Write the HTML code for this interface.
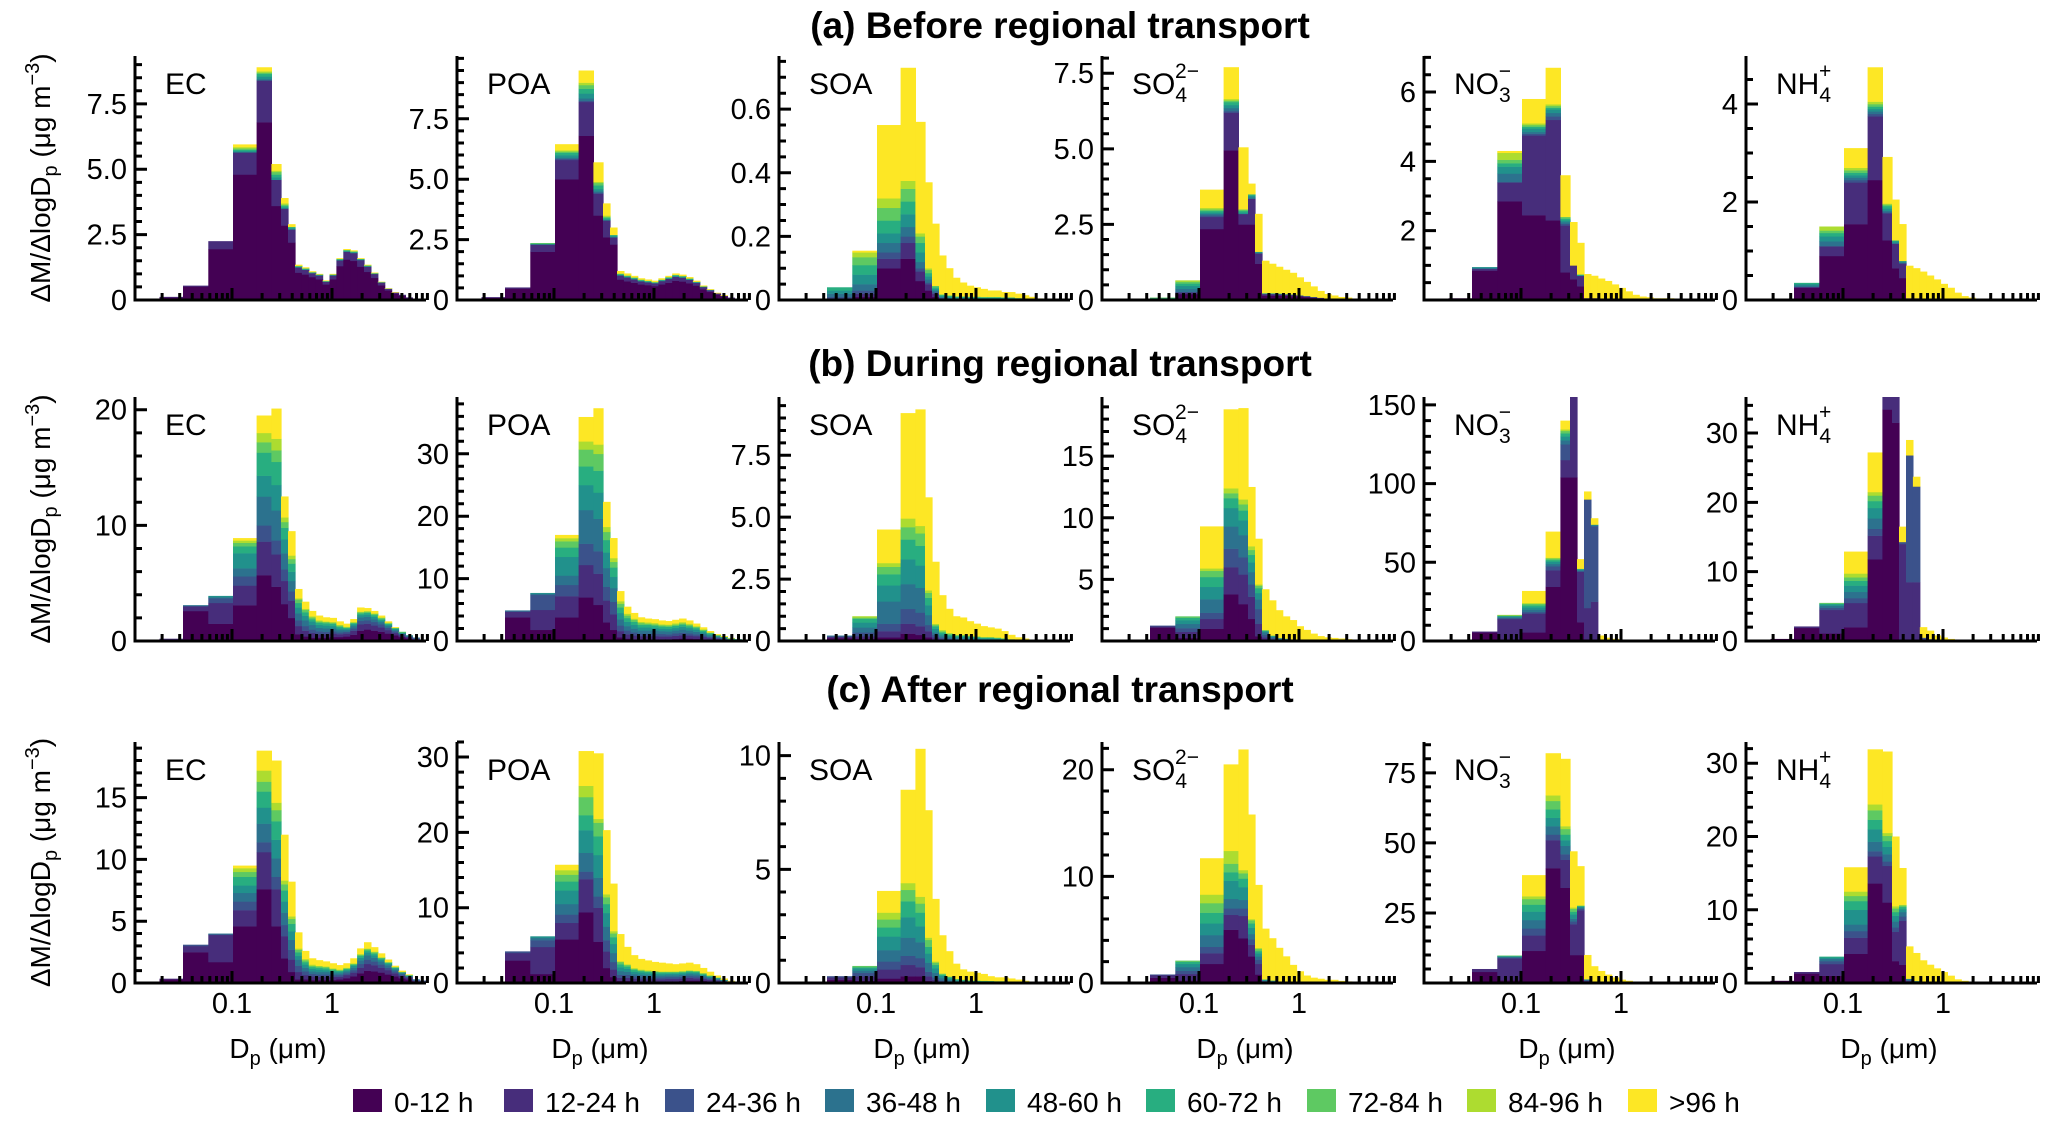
<!DOCTYPE html>
<html><head><meta charset="utf-8"><title>Size distributions by transport age</title>
<style>
html,body{margin:0;padding:0;background:#fff;}
svg{display:block;font-family:"Liberation Sans",Arial,sans-serif;}
</style></head>
<body>
<svg id="chart" width="2067" height="1126" viewBox="0 0 2067 1126" xmlns="http://www.w3.org/2000/svg"></svg>
<script>
// ---- data ----
const ageCategories = ['0-12 h','12-24 h','24-36 h','36-48 h','48-60 h','60-72 h','72-84 h','84-96 h','>96 h'];
const ageColors = ['#440154','#472d7b','#3b528b','#2c728e','#21918c','#28ae80','#5ec962','#addc30','#fde725'];
// bin edges, log10(Dp/um)
const binEdgesLog = [-1.97,-1.725,-1.49,-1.237,-0.99,-0.754,-0.606,-0.51,-0.44,-0.37,-0.301,-0.232,-0.163,-0.094,-0.025,0.044,0.113,0.182,0.251,0.32,0.389,0.458,0.527,0.596,0.665,0.734,0.803,0.872,0.941];
const speciesNames = ['EC','POA','SOA','SO4','NO3','NH4'];
const periodTitles = ['(a) Before regional transport','(b) During regional transport','(c) After regional transport'];

const a_EC = [[0.05],[0.1,0.02],[0.52,0.03],[1.95,0.3],[4.8,0.85,0,0,0.05,0.05,0.05,0.05,0.1],[6.8,1.6,0,0.05,0.1,0.1,0.05,0.05,0.15],[3.6,1.0,0,0,0.1,0.1,0.1,0.05,0.25],[2.85,0.65,0,0,0.05,0.05,0.05,0.05,0.2],[2.2,0.5,0,0,0.05,0.05,0,0,0.1],
[1.05,0.2,0,0,0.02,0.02,0.02,0,0.04],[0.98,0.18,0,0,0.02,0.02,0.02,0,0.03],[0.88,0.15,0,0,0.02,0.02,0,0,0.03],[0.8,0.14,0,0,0.02,0.02,0,0,0.02],[0.6,0.1,0,0,0.02,0.01,0,0,0.02],[0.8,0.14,0,0,0.02,0.02,0,0,0.02],[1.3,0.22,0,0,0.02,0.02,0.02,0,0.02],[1.55,0.3,0,0,0.03,0.02,0.02,0,0.03],[1.5,0.3,0,0,0.03,0.02,0.02,0,0.03],[1.28,0.25,0,0,0.02,0.02,0.01,0,0.02],[1.08,0.2,0,0,0.02,0.02,0.01,0,0.02],[0.85,0.15,0,0,0.02,0.01,0,0,0.02],[0.57,0.1,0,0,0.01,0.01,0,0,0.01],[0.37,0.06,0,0,0.01,0,0,0,0.01],[0.25,0.04,0,0,0,0,0,0,0.01],[0.17,0.03],[0.08,0.02],[0.04,0.01],[0.03]];
const a_POA = [[0.05],[0.1,0.02],[0.48,0.04],[2.0,0.3,0,0,0.02,0.02,0.02,0,0],[5.0,0.8,0.05,0.05,0.1,0.1,0.05,0.05,0.25],[6.8,1.4,0.05,0.1,0.2,0.2,0.15,0.1,0.5],[3.5,0.9,0.05,0.05,0.1,0.15,0.1,0.05,0.8],[2.6,0.7,0,0,0.05,0.05,0.05,0.05,0.5],[2.3,0.3,0,0,0.05,0.05,0,0,0.3],
[0.85,0.17,0,0,0.03,0.03,0.02,0,0.1],[0.78,0.16,0,0,0.03,0.03,0.02,0,0.08],[0.72,0.14,0,0,0.03,0.03,0.02,0,0.06],[0.65,0.13,0,0,0.02,0.03,0.02,0,0.05],[0.62,0.12,0,0,0.02,0.03,0.01,0,0.05],[0.58,0.12,0,0,0.02,0.02,0.01,0,0.05],[0.65,0.14,0,0,0.02,0.03,0.01,0,0.05],[0.72,0.16,0,0,0.03,0.03,0.01,0,0.05],[0.8,0.17,0,0,0.03,0.03,0.02,0,0.05],[0.77,0.16,0,0,0.03,0.03,0.01,0,0.05],[0.7,0.14,0,0,0.02,0.03,0.01,0,0.05],[0.6,0.12,0,0,0.02,0.02,0,0,0.04],[0.45,0.09,0,0,0.01,0.02,0,0,0.03],[0.34,0.07,0,0,0.01,0.01,0,0,0.02],[0.23,0.05,0,0,0,0,0,0,0.02],[0.15,0.03,0,0,0,0,0,0,0.02],[0.08,0.02],[0.04,0.01],[0.03]];
const a_SOA = [[],[],[0.003,0.002,0.005,0.01,0.01,0.01],[0.01,0.01,0.01,0.02,0.03,0.03,0.025,0.015,0.005],[0.1,0.03,0.02,0.03,0.03,0.04,0.04,0.03,0.23],[0.13,0.05,0.02,0.03,0.04,0.04,0.04,0.025,0.355],[0.06,0.03,0.01,0.02,0.03,0.03,0.02,0.01,0.35],[0.03,0.02,0.005,0.01,0.01,0.01,0.01,0.005,0.27],[0.01,0.01,0.005,0.005,0.005,0.005,0.005,0,0.195],
[0.003,0.002,0.002,0.003,0.003,0.003,0.002,0,0.122],[0.002,0.002,0.001,0.002,0.003,0.003,0.002,0,0.085],[0.002,0.001,0.001,0.002,0.002,0.002,0.002,0,0.058],[0.002,0.001,0.001,0.002,0.002,0.002,0.002,0,0.043],[0.001,0.001,0.001,0.002,0.002,0.002,0.002,0,0.034],[0.001,0.001,0.001,0.002,0.002,0.002,0.002,0,0.029],[0.001,0.001,0.001,0.002,0.002,0.002,0.001,0,0.025],[0.001,0.001,0.001,0.002,0.002,0.002,0.001,0,0.02],[0.001,0.001,0.001,0.002,0.002,0.002,0.001,0,0.02],[0.001,0.001,0.001,0.001,0.002,0.002,0.001,0,0.016],[0.001,0.001,0.001,0.001,0.002,0.002,0.001,0,0.016],[0.001,0.001,0.001,0.001,0.001,0.001,0.001,0,0.013],[0,0,0,0.001,0.001,0.001,0,0,0.012],[0,0,0,0,0.001,0.001,0,0,0.008],[0,0,0,0,0,0,0,0,0.005],[0,0,0,0,0,0,0,0,0.003],[],[],[]];
const a_SO4 = [[],[],[0.03,0.01,0,0.01,0.01,0.01,0.01],[0.2,0.05,0.02,0.1,0.1,0.08,0.06,0.04,0],[2.35,0.4,0.05,0.05,0.05,0.05,0.05,0.05,0.6],[4.95,1.25,0.05,0.1,0.1,0.1,0.05,0.05,1.05],[2.5,0.35,0,0,0.05,0.05,0.05,0,2.05],[2.5,0.85,0,0.05,0.05,0.05,0,0,0.35],[1.2,0.35,0,0,0.05,0,0,0,1.25],
[0.15,0.05,0,0.01,0.01,0.01,0,0,1.07],[0.15,0.05,0,0.01,0.01,0.01,0,0,0.97],[0.15,0.04,0,0.01,0.01,0.01,0,0,0.88],[0.14,0.04,0,0.01,0.01,0,0,0,0.8],[0.13,0.04,0,0.01,0.01,0,0,0,0.71],[0.12,0.03,0,0,0.01,0,0,0,0.59],[0.1,0.03,0,0,0.01,0,0,0,0.46],[0.08,0.02,0,0,0.01,0,0,0,0.34],[0.06,0.02,0,0,0,0,0,0,0.22],[0.04,0.01,0,0,0,0,0,0,0.15],[0.03,0.01,0,0,0,0,0,0,0.11],[0.02,0.01,0,0,0,0,0,0,0.07],[0.01,0,0,0,0,0,0,0,0.07],[0.01,0,0,0,0,0,0,0,0.04],[0,0,0,0,0,0,0,0,0.03],[0,0,0,0,0,0,0,0,0.02],[0,0,0,0,0,0,0,0,0.01],[],[]];
const a_NO3 = [[],[0.05],[0.85,0.05,0,0.03,0.02],[2.85,0.55,0,0.25,0.2,0.1,0.1,0.2,0.05],[2.45,2.3,0.05,0.05,0.1,0.05,0.05,0.05,0.7],[2.3,2.9,0.1,0.1,0.1,0.05,0.05,0.05,1.05],[0.8,1.35,0.05,0.05,0.05,0.05,0.05,0,1.2],[0.6,0.4,0,0,0,0,0,0,1.25],[0.4,0.3,0,0,0.02,0.02,0,0,0.91],
[0.04,0.02,0,0,0,0,0,0,0.69],[0.04,0.02,0,0,0,0,0,0,0.64],[0.03,0.02,0,0,0,0,0,0,0.57],[0.03,0.01,0,0,0,0,0,0,0.51],[0.02,0.01,0,0,0,0,0,0,0.42],[0.02,0.01,0,0,0,0,0,0,0.32],[0.01,0.01,0,0,0,0,0,0,0.23],[0.01,0,0,0,0,0,0,0,0.14],[0,0,0,0,0,0,0,0,0.1],[0,0,0,0,0,0,0,0,0.08],[0,0,0,0,0,0,0,0,0.05],[0,0,0,0,0,0,0,0,0.05],[0,0,0,0,0,0,0,0,0.05],[0,0,0,0,0,0,0,0,0.03],[],[],[],[],[]];
const a_NH4 = [[],[0.02],[0.25,0.02,0,0.03,0.03,0.02],[0.9,0.2,0,0.1,0.1,0.07,0.05,0.08,0],[1.55,0.85,0.05,0.05,0.05,0.05,0.05,0.05,0.4],[2.45,1.3,0.05,0.05,0.05,0.05,0.05,0.05,0.7],[1.22,0.55,0.02,0.03,0.05,0.05,0.03,0.02,0.95],[0.65,0.5,0,0.02,0.03,0.02,0,0,0.83],[0.45,0.3,0,0.02,0.03,0,0,0,0.75],
[0.03,0.01,0,0,0,0,0,0,0.66],[0.03,0.01,0,0,0,0,0,0,0.61],[0.02,0.01,0,0,0,0,0,0,0.55],[0.02,0.01,0,0,0,0,0,0,0.47],[0.02,0,0,0,0,0,0,0,0.4],[0.01,0,0,0,0,0,0,0,0.32],[0.01,0,0,0,0,0,0,0,0.24],[0,0,0,0,0,0,0,0,0.15],[0,0,0,0,0,0,0,0,0.08],[0,0,0,0,0,0,0,0,0.05],[0,0,0,0,0,0,0,0,0.03],[0,0,0,0,0,0,0,0,0.02],[0,0,0,0,0,0,0,0,0.02],[],[],[],[],[],[]];

const b_EC = [[0.05],[0.15,0.05],[2.6,0.4,0.05,0.05],[1.5,1.8,0.4,0.1,0.1],[3.1,1.7,0.8,0.7,1.3,0.6,0.3,0.2,0.2],[5.7,2.9,1.4,2.5,1.8,2.0,0.9,0.8,1.5],[4.7,2.8,1.2,2.6,2.2,2.0,1.0,1.0,2.6],[3.2,2.0,1.0,1.4,1.2,1.0,0.5,0.4,1.8],[2.0,1.5,0.8,0.9,0.8,0.7,0.4,0.3,2.1],
[0.6,0.7,0.5,0.6,0.5,0.4,0.3,0.1,0.8],[0.4,0.5,0.4,0.5,0.4,0.3,0.2,0.1,0.6],[0.3,0.4,0.3,0.4,0.3,0.2,0.15,0.1,0.45],[0.3,0.3,0.25,0.3,0.25,0.2,0.1,0.1,0.4],[0.3,0.3,0.2,0.3,0.25,0.2,0.1,0.05,0.35],[0.35,0.3,0.2,0.25,0.2,0.2,0.1,0.05,0.35],[0.35,0.25,0.15,0.2,0.15,0.15,0.1,0.05,0.3],[0.4,0.25,0.15,0.15,0.1,0.1,0.05,0.05,0.25],[0.55,0.35,0.2,0.2,0.15,0.1,0.05,0.05,0.25],[0.9,0.55,0.3,0.3,0.2,0.15,0.1,0.05,0.35],[1.0,0.5,0.3,0.3,0.2,0.15,0.1,0.05,0.25],[0.9,0.45,0.3,0.25,0.2,0.15,0.1,0.05,0.2],[0.8,0.4,0.25,0.2,0.15,0.1,0.1,0.05,0.15],[0.65,0.3,0.2,0.15,0.1,0.1,0.05,0.05,0.1],[0.5,0.2,0.15,0.1,0.1,0.05,0.05,0,0.05],[0.35,0.15,0.1,0.05,0.05,0.05,0.05],[0.25,0.1,0.05,0.05,0.05],[0.15,0.05,0.05,0.05],[0.05,0.03,0.02]];
const b_POA = [[0.05],[0.2],[3.8,0.9,0.1,0.1],[1.8,3.2,2.4,0.2,0.1],[3.8,3.4,1.8,1.5,3.0,1.5,1.0,0.5,0.5],[7.0,5.2,3.4,5.4,4.0,3.0,2.7,1.3,3.9],[5.8,5.0,3.6,5.2,4.2,3.5,2.7,1.5,5.8],[3.0,3.5,2.2,3.0,2.5,2.0,1.3,0.8,4.0],[1.8,2.5,2.0,2.2,1.8,1.5,0.9,0.6,3.2],
[0.6,1.0,0.9,1.0,1.0,0.9,0.6,0.4,1.6],[0.4,0.7,0.6,0.7,0.7,0.6,0.4,0.3,1.1],[0.3,0.6,0.5,0.6,0.6,0.5,0.3,0.2,0.9],[0.3,0.5,0.4,0.5,0.5,0.4,0.3,0.2,0.7],[0.3,0.5,0.4,0.5,0.5,0.4,0.2,0.2,0.6],[0.3,0.5,0.4,0.5,0.4,0.4,0.2,0.2,0.6],[0.3,0.45,0.4,0.45,0.4,0.35,0.2,0.15,0.6],[0.3,0.45,0.35,0.45,0.4,0.35,0.2,0.15,0.55],[0.35,0.5,0.4,0.45,0.4,0.35,0.2,0.2,0.55],[0.4,0.55,0.4,0.5,0.45,0.35,0.2,0.2,0.55],[0.4,0.5,0.35,0.45,0.4,0.3,0.2,0.2,0.5],[0.35,0.45,0.3,0.4,0.35,0.25,0.2,0.1,0.4],[0.3,0.35,0.25,0.3,0.25,0.2,0.15,0.1,0.3],[0.25,0.25,0.2,0.2,0.2,0.15,0.1,0.05,0.2],[0.2,0.2,0.15,0.15,0.1,0.1,0.05,0.05,0.1],[0.15,0.15,0.1,0.1,0.1,0.05,0.05,0,0.1],[0.1,0.1,0.05,0.05,0.05,0.05,0.05,0,0.05],[0.05,0.05,0.05,0.05,0.05,0.05],[0.05,0.05,0.05]];
const b_SOA = [[],[0.05],[0.12,0.05,0.03,0.02],[0.1,0.1,0.15,0.2,0.2,0.15,0.05,0.05,0],[0.15,0.25,0.3,0.9,0.65,0.45,0.3,0.15,1.35],[0.3,0.4,0.6,1.0,1.0,0.8,0.5,0.35,4.25],[0.25,0.35,0.55,1.0,0.9,0.8,0.5,0.3,4.7],[0.15,0.25,0.25,0.4,0.4,0.3,0.2,0.1,3.75],[0.05,0.1,0.1,0.1,0.15,0.1,0.05,0.05,2.5],
[0.03,0.05,0.05,0.07,0.08,0.07,0.05,0.05,1.4],[0.02,0.04,0.04,0.05,0.06,0.05,0.04,0.03,0.97],[0.02,0.03,0.03,0.04,0.05,0.04,0.03,0.02,0.74],[0.02,0.03,0.03,0.04,0.05,0.04,0.03,0.02,0.69],[0.02,0.02,0.03,0.03,0.04,0.04,0.03,0.02,0.57],[0.02,0.02,0.02,0.03,0.04,0.03,0.02,0.02,0.5],[0.01,0.02,0.02,0.03,0.03,0.03,0.02,0.01,0.43],[0.01,0.02,0.02,0.03,0.03,0.03,0.02,0.01,0.38],[0.01,0.02,0.02,0.02,0.03,0.02,0.02,0.01,0.35],[0.01,0.01,0.02,0.02,0.02,0.02,0.01,0.01,0.28],[0.01,0.01,0.01,0.01,0.02,0.01,0.01,0,0.17],[0,0.01,0.01,0.01,0.01,0.01,0,0,0.1],[0,0,0.01,0.01,0.01,0,0,0,0.07],[0,0,0,0,0.01,0,0,0,0.04],[0,0,0,0,0,0,0,0,0.03],[],[],[],[]];
const b_SO4 = [[],[],[1.1,0.1,0.05],[0.25,0.5,0.3,0.35,0.3,0.2,0.1,0,0],[1.0,0.8,0.5,1.1,1.0,0.8,0.5,0.2,3.4],[3.8,2.2,1.5,1.8,1.5,0.8,0.4,0.4,6.4],[3.0,2.4,1.4,1.8,1.2,0.8,0.5,0.4,7.4],[1.8,1.8,1.0,1.0,0.8,0.6,0.4,0.3,4.8],[0.4,1.0,1.2,0.8,0.5,0.4,0.2,0.1,3.7],
[0.1,0.2,0.2,0.2,0.1,0.05,0.05,0,3.3],[0.05,0.1,0.1,0.1,0.05,0.05,0,0,2.85],[0.05,0.05,0.05,0.05,0.05,0,0,0,2.25],[0.03,0.05,0.05,0.05,0.02,0,0,0,1.8],[0.03,0.04,0.03,0.03,0.02,0,0,0,1.55],[0.02,0.03,0.03,0.02,0.02,0,0,0,1.08],[0.02,0.02,0.02,0.02,0.01,0,0,0,0.81],[0.01,0.02,0.02,0.01,0.01,0,0,0,0.53],[0.01,0.01,0.01,0.01,0,0,0,0,0.36],[0.01,0.01,0.01,0,0,0,0,0,0.27],[0,0,0,0,0,0,0,0,0.25],[0,0,0,0,0,0,0,0,0.2],[0,0,0,0,0,0,0,0,0.15],[0,0,0,0,0,0,0,0,0.1],[0,0,0,0,0,0,0,0,0.05],[],[],[],[]];
const b_NO3 = [[],[0.3],[5.5,0.5],[1.0,13.0,0.6,0.6,0.5,0.4,0.3,0.2,0],[5.5,12.0,1.0,1.5,1.5,1.2,1.0,0.5,7.6],[34.5,10.5,2.5,1.5,1.5,1.0,1.0,0.5,16.5],[104,11,10,2.5,2.5,2,1.5,1,5.5],[104,52,0,0,0,0,0,0,4],[12,32,0.5,0.5,0.5,0.3,0.2,0,6],
[0,21,69,0,0,0,0,0,5],[0,25,48,0.5,0.5,0,0,0,4],[0.3,0.5,0.2,0,0,0,0,0,2.5],[0.2,0.3,0.1,0,0,0,0,0,1.5],[0.1,0.2,0.1,0,0,0,0,0,1.0],[0,0,0,0,0,0,0,0,0.8],[0,0,0,0,0,0,0,0,0.5],[0,0,0,0,0,0,0,0,0.3],[],[],[],[],[],[],[],[],[],[]];
const b_NH4 = [[],[0.3],[1.9,0.2],[1.1,3.4,0.3,0.3,0.2,0.1,0.1,0,0],[2.0,3.5,0.7,0.9,0.9,0.7,0.5,0.55,3.15],[11.8,3.4,1.0,1.5,1.5,1.0,0.8,0.5,5.7],[33.4,4],[31.5,6],[0,14,0.3,0,0,0,0,0,2.2],
[0,8.5,18.3,0,0,0,0,0,2.2],[0,8.5,13.8,0,0,0,0,0,1.4],[0.1,0.2,0.2,0,0,0,0,0,1.5],[0.1,0.1,0.1,0,0,0,0,0,1.2],[0,0,0,0,0,0,0,0,0.8],[0,0,0,0,0,0,0,0,0.5],[0,0,0,0,0,0,0,0,0.3],[0,0,0,0,0,0,0,0,0.2],[],[],[],[],[],[],[],[],[],[]];

const c_EC = [[0.05],[0.3,0.05],[2.5,0.5,0.1],[1.7,2.2,0.05,0.05],[4.6,1.3,0.7,0.7,0.6,0.7,0.4,0.3,0.2],[7.6,3.0,0.8,1.5,1.3,1.3,0.8,0.9,1.6],[4.6,3.0,1.0,1.5,1.5,1.5,0.9,0.6,3.4],[2.0,1.8,0.9,1.0,0.9,0.9,0.5,0.3,3.7],[0.9,1.0,0.8,0.8,0.7,0.6,0.4,0.2,2.8],
[0.3,0.6,0.5,0.5,0.3,0.3,0.2,0.1,1.3],[0.3,0.35,0.3,0.3,0.25,0.2,0.15,0.1,0.65],[0.25,0.3,0.2,0.2,0.2,0.15,0.1,0.1,0.5],[0.25,0.25,0.2,0.2,0.2,0.15,0.1,0.05,0.45],[0.25,0.25,0.2,0.2,0.15,0.15,0.1,0.05,0.4],[0.25,0.25,0.15,0.15,0.15,0.1,0.1,0.05,0.4],[0.3,0.2,0.15,0.15,0.1,0.1,0.05,0.05,0.35],[0.4,0.25,0.15,0.15,0.1,0.1,0.05,0.05,0.35],[0.55,0.3,0.2,0.2,0.15,0.1,0.05,0.05,0.4],[0.8,0.45,0.3,0.3,0.2,0.15,0.1,0.05,0.45],[1.0,0.55,0.35,0.35,0.25,0.15,0.1,0.05,0.5],[0.95,0.5,0.3,0.3,0.2,0.15,0.1,0.05,0.35],[0.85,0.4,0.25,0.25,0.15,0.1,0.05,0.05,0.3],[0.7,0.35,0.2,0.2,0.1,0.1,0.05,0,0.2],[0.55,0.25,0.15,0.15,0.1,0.05,0.05,0,0.1],[0.4,0.2,0.1,0.1,0.05,0.05,0,0,0.1],[0.3,0.15,0.05,0.05,0.05,0.05,0,0,0.05],[0.15,0.05,0.05,0.05],[0.1,0.05,0.05]];
const c_POA = [[0.05],[0.1],[3.0,1.0,0.2],[1.2,3.6,0.9,0.3,0.2],[5.8,2.2,1.1,1.4,1.8,1.2,0.9,0.6,0.7],[9.4,4.4,1.0,2.5,3.0,2.0,2.4,1.5,4.6],[5.5,4.5,1.5,2.5,3.0,2.5,1.8,0.5,8.7],[2.0,2.2,1.5,1.8,1.8,1.2,0.9,0.4,8.5],[0.8,1.0,1.0,1.2,1.2,0.9,0.5,0.3,6.3],
[0.3,0.4,0.4,0.5,0.5,0.4,0.3,0.1,3.6],[0.3,0.4,0.4,0.4,0.4,0.3,0.2,0.1,2.3],[0.25,0.35,0.3,0.3,0.3,0.25,0.15,0.1,1.7],[0.2,0.3,0.3,0.3,0.3,0.2,0.1,0.1,1.4],[0.2,0.3,0.25,0.3,0.25,0.2,0.1,0.1,1.3],[0.2,0.3,0.25,0.25,0.25,0.2,0.1,0.05,1.2],[0.2,0.3,0.25,0.25,0.2,0.2,0.1,0.05,1.15],[0.25,0.3,0.25,0.25,0.2,0.15,0.1,0.05,1.05],[0.25,0.3,0.25,0.25,0.2,0.15,0.1,0.05,0.95],[0.3,0.3,0.25,0.25,0.2,0.15,0.1,0.05,1.0],[0.35,0.35,0.25,0.25,0.2,0.15,0.1,0.05,1.0],[0.35,0.3,0.25,0.25,0.2,0.15,0.1,0.05,0.85],[0.3,0.25,0.2,0.2,0.15,0.1,0.1,0.05,0.65],[0.25,0.2,0.15,0.15,0.1,0.1,0.05,0.05,0.45],[0.2,0.15,0.1,0.1,0.1,0.05,0.05,0,0.25],[0.15,0.1,0.05,0.05,0.05,0.05,0,0,0.15],[0.1,0.05,0.05,0.05,0,0,0,0,0.05],[0.05,0.05,0.05,0.05],[0.05,0.05]];
const c_SOA = [[],[0.05],[0.15,0.1,0.05],[0.1,0.2,0.15,0.1,0.1,0.05,0.05,0],[0.2,0.4,0.35,0.5,0.6,0.4,0.35,0.3,0.95],[0.3,0.5,0.4,0.8,0.9,0.7,0.5,0.3,4.1],[0.3,0.4,0.4,0.7,0.7,0.6,0.4,0.3,6.5],[0.1,0.2,0.2,0.4,0.4,0.3,0.3,0.1,5.6],[0.05,0.1,0.1,0.2,0.2,0.15,0.1,0.05,2.75],
[0.02,0.05,0.05,0.1,0.1,0.05,0.05,0,1.68],[0.02,0.03,0.03,0.06,0.06,0.05,0.03,0.02,1.1],[0.01,0.02,0.02,0.04,0.04,0.03,0.02,0.01,0.66],[0.01,0.02,0.02,0.03,0.03,0.02,0.02,0.01,0.44],[0.01,0.01,0.01,0.03,0.03,0.02,0.01,0.01,0.37],[0.01,0.01,0.01,0.02,0.03,0.02,0.01,0.01,0.33],[0.01,0.01,0.01,0.02,0.02,0.02,0.01,0.01,0.29],[0.01,0.01,0.01,0.02,0.02,0.02,0.01,0,0.2],[0.01,0.01,0.01,0.02,0.02,0.01,0.01,0,0.16],[0.01,0.01,0.01,0.02,0.02,0.01,0.01,0,0.16],[0,0.01,0.01,0.01,0.02,0.01,0.01,0,0.13],[0,0.01,0.01,0.01,0.01,0.01,0,0,0.1],[0,0,0.01,0.01,0.01,0,0,0,0.07],[0,0,0,0,0.01,0,0,0,0.04],[],[],[],[],[]];
const c_SO4 = [[],[],[0.5,0.25,0.05],[0.25,0.6,0.3,0.35,0.3,0.2,0.1,0,0],[1.8,1.0,0.6,1.1,1.1,1.0,0.9,0.8,3.4],[5.0,1.4,0.6,0.9,1.7,0.8,0.8,1.2,8.1],[4.2,2.1,0.7,0.8,1.2,0.8,0.5,0.3,11.3],[2.5,1.1,0.5,0.5,0.6,0.4,0.3,0.1,9.8],[0.8,1.0,0.4,0.3,0.3,0.2,0.2,0.1,5.9],
[0.05,0.1,0.05,0.05,0.05,0.05,0,0,4.75],[0.05,0.05,0.05,0.05,0.05,0,0,0,3.95],[0.03,0.05,0.03,0.03,0.03,0,0,0,3.13],[0.03,0.03,0.03,0.03,0.02,0,0,0,2.36],[0.02,0.02,0.02,0.02,0.02,0,0,0,1.6],[0.01,0.02,0.01,0.01,0.01,0,0,0,1.04],[0.01,0.01,0.01,0.01,0,0,0,0,0.66],[0,0,0,0,0,0,0,0,0.5],[0,0,0,0,0,0,0,0,0.4],[0,0,0,0,0,0,0,0,0.3],[0,0,0,0,0,0,0,0,0.3],[0,0,0,0,0,0,0,0,0.2],[0,0,0,0,0,0,0,0,0.15],[0,0,0,0,0,0,0,0,0.1],[],[],[],[],[]];
const c_NO3 = [[],[0.3],[4.0,1.0],[1.0,7.8,0.3,0.3,0.2,0.1,0.1,0],[11.5,5.5,2.5,3.0,3.0,2.5,2.0,1.0,7.5],[41,10,2,3,3,3,3,2,15],[34,10,2,3,2,2,2,1,24],[10,11,1,1,1.5,1,1,0.5,20],[10,16,0.5,0.5,0.3,0.2,0.2,0,14],
[0.3,0.5,0.2,0.2,0.2,0,0,0,8.6],[0.1,0.2,0.1,0.1,0.1,0,0,0,5.4],[0.1,0.1,0.1,0.1,0,0,0,0,3.9],[0.05,0.1,0.05,0.05,0,0,0,0,2.75],[0,0.05,0.05,0,0,0,0,0,1.9],[0,0,0,0,0,0,0,0,1.2],[0,0,0,0,0,0,0,0,0.8],[0,0,0,0,0,0,0,0,0.5],[0,0,0,0,0,0,0,0,0.3],[0,0,0,0,0,0,0,0,0.3],[0,0,0,0,0,0,0,0,0.2],[],[],[],[],[],[],[],[]];
const c_NH4 = [[],[0.3],[1.3,0.2],[1.0,1.6,0.4,0.3,0.2,0.1,0,0],[4.0,2.2,0.9,0.9,2.0,1.2,0.7,0.6,3.3],[13.6,3.7,0.7,1.3,1.7,1.3,1.3,0.8,7.5],[11.0,5.0,0.6,1.0,1.0,0.8,0.7,0.4,11.1],[3.0,4.0,0.6,0.8,0.8,0.5,0.5,0.3,9.5],[2.5,6.0,0.6,0.6,0.4,0.3,0.2,0.1,5.0],
[0.1,0.2,0.1,0.1,0.1,0,0,0,4.4],[0.05,0.1,0.05,0.05,0.05,0,0,0,3.8],[0.03,0.05,0.03,0.03,0.03,0,0,0,2.93],[0.02,0.03,0.02,0.02,0.02,0,0,0,2.39],[0,0,0,0,0,0,0,0,2.0],[0,0,0,0,0,0,0,0,1.5],[0,0,0,0,0,0,0,0,1.0],[0,0,0,0,0,0,0,0,0.5],[0,0,0,0,0,0,0,0,0.3],[0,0,0,0,0,0,0,0,0.2],[0,0,0,0,0,0,0,0,0.2],[0,0,0,0,0,0,0,0,0.1],[],[],[],[],[],[],[]];

const panelData = [[a_EC,a_POA,a_SOA,a_SO4,a_NO3,a_NH4],[b_EC,b_POA,b_SOA,b_SO4,b_NO3,b_NH4],[c_EC,c_POA,c_SOA,c_SO4,c_NO3,c_NH4]];
const yMaxes = [[9.33,10.1,0.767,8.07,7.04,4.98],[21.1,39.1,9.85,19.8,155,35.2],[19.5,32.0,10.6,22.6,86,32.9]];
const yTickLabels = [
 [['0','2.5','5.0','7.5'],['0','2.5','5.0','7.5'],['0','0.2','0.4','0.6'],['0','2.5','5.0','7.5'],['2','4','6'],['0','2','4']],
 [['0','10','20'],['0','10','20','30'],['0','2.5','5.0','7.5'],['5','10','15'],['0','50','100','150'],['0','10','20','30']],
 [['0','5','10','15'],['0','10','20','30'],['0','5','10'],['0','10','20'],['25','50','75'],['0','10','20','30']]];
const yMinorSteps = [[0.5,0.5,0.05,0.5,0.5,0.5],[2,2,0.5,1,10,2],[1,2,1,2,5,2]];
const xMajorTicks = [0.1,1];
const xMinorTicks = [0.02,0.03,0.04,0.05,0.06,0.07,0.08,0.09,0.2,0.3,0.4,0.5,0.6,0.7,0.8,0.9,2,3,4,5,6,7,8,9];

// ---- layout ----
const colX0 = [135,457,779,1102,1424,1746];
const rowTop = [56,397,742];
const rowBase = [300,641,983];
const NS = 'http://www.w3.org/2000/svg';
const svg = document.getElementById('chart');
function mk(tag, attrs, parent){const e=document.createElementNS(NS,tag);for(const k in attrs)e.setAttribute(k,attrs[k]);(parent||svg).appendChild(e);return e;}
function xScale(c, d){return colX0[c] + 97 + (Math.log10(d)+1)*100;}
function xScaleLog(c, lg){return colX0[c] + 97 + (lg+1)*100;}

const defs = mk('defs',{});
const labelHTML = {
 EC:'EC', POA:'POA', SOA:'SOA',
 SO4:'SO<tspan dy="8" font-size="21">4</tspan><tspan dx="-12" dy="-24" font-size="21">2−</tspan>',
 NO3:'NO<tspan dy="8" font-size="21">3</tspan><tspan dx="-12" dy="-24" font-size="21">−</tspan>',
 NH4:'NH<tspan dy="8" font-size="21">4</tspan><tspan dx="-12" dy="-24" font-size="21">+</tspan>'};

for(let r=0;r<3;r++){
  const title = mk('text',{x:1060,y:[38,376,702][r],'text-anchor':'middle','font-size':37,'font-weight':'bold',fill:'#000'});
  
  
  title.textContent = periodTitles[r];

  const cy = (rowTop[r]+rowBase[r])/2;
  const yl = mk('text',{x:50,y:cy,'text-anchor':'middle','font-size':28,fill:'#000',transform:'rotate(-90 50 '+cy+')'});
  
  
  yl.innerHTML = 'ΔM/ΔlogD<tspan dy="7" font-size="20">p</tspan><tspan dy="-7"> (μg m</tspan><tspan dy="-11" font-size="20">−3</tspan><tspan dy="11">)</tspan>';

  for(let c=0;c<6;c++){
    const g = mk('g',{});
    
    
    const x0 = colX0[c], top = rowTop[r], base = rowBase[r], ymax = yMaxes[r][c];
    const ys = v => base - v/ymax*(base-top);
    const cpId = 'cp'+r+c;
    const cp = mk('clipPath',{id:cpId},defs);
    mk('rect',{x:x0,y:top,width:300,height:base-top},cp);
    const bars = mk('g',{'clip-path':'url(#'+cpId+')'},g);
    
    
    const rows = panelData[r][c];
    for(let i=0;i<rows.length;i++){
      const xa = xScaleLog(c, binEdgesLog[i]), xb = xScaleLog(c, binEdgesLog[i+1]);
      let cum = 0;
      for(let k=0;k<rows[i].length;k++){
        const v = rows[i][k];
        if(!v) continue;
        const y1 = ys(cum+v), y0 = ys(cum);
        const rect = mk('rect',{x:xa.toFixed(2),y:y1.toFixed(2),width:(xb-xa+0.6).toFixed(2),height:Math.max(0.3,y0-y1+0.3).toFixed(2),fill:ageColors[k]},bars);
        
        
        cum += v;
      }
    }
    const ax = mk('path',{d:'M'+x0+' '+top+' V'+base+' H'+(x0+291),fill:'none',stroke:'#000','stroke-width':3},g);
    
    
    const ms = yMinorSteps[r][c];
    let tp = '';
    for(let v=ms; v<=ymax+1e-9; v+=ms){ const y=ys(v); tp += 'M'+x0+' '+y.toFixed(2)+' h7 '; }
    const labels = yTickLabels[r][c];
    for(const lb of labels){
      const v = parseFloat(lb), y = ys(v);
      tp += 'M'+x0+' '+y.toFixed(2)+' h12 ';
      const t = mk('text',{x:x0-8,y:(y+10).toFixed(2),'text-anchor':'end','font-size':29,fill:'#000'},g);
      
      
      t.textContent = lb;
    }
    for(const d of xMinorTicks){ tp += 'M'+xScale(c,d).toFixed(2)+' '+base+' v-7 '; }
    for(const d of xMajorTicks){ tp += 'M'+xScale(c,d).toFixed(2)+' '+base+' v-12 '; }
    const ticks = mk('path',{d:tp,stroke:'#000','stroke-width':3,fill:'none'},g);
    
    
    const pl = mk('text',{x:x0+30,y:top+38,'font-size':30,fill:'#000'},g);
    
    
    pl.innerHTML = labelHTML[speciesNames[c]];
    if(r===2){
      for(const d of xMajorTicks){
        const xl = mk('text',{x:xScale(c,d).toFixed(2),y:1013,'text-anchor':'middle','font-size':29,fill:'#000'},g);
        
        
        xl.textContent = String(d);
      }
      const xt = mk('text',{x:x0+143,y:1058,'text-anchor':'middle','font-size':28,fill:'#000'},g);
      
      
      xt.innerHTML = 'D<tspan dy="7" font-size="20">p</tspan><tspan dy="-7"> (μm)</tspan>';
    }
  }
}
const legendX = [353,504,665,825,986,1146,1307,1467,1628];
const lg = mk('g',{});


for(let k=0;k<ageCategories.length;k++){
  const it = mk('g',{},lg);
  
  
  const sw = mk('rect',{x:legendX[k],y:1089,width:29,height:23,fill:ageColors[k]},it);
  
  
  const tx = mk('text',{x:legendX[k]+41,y:1112,'font-size':28,fill:'#000'},it);
  
  
  tx.textContent = ageCategories[k];
}
</script>
</body></html>
